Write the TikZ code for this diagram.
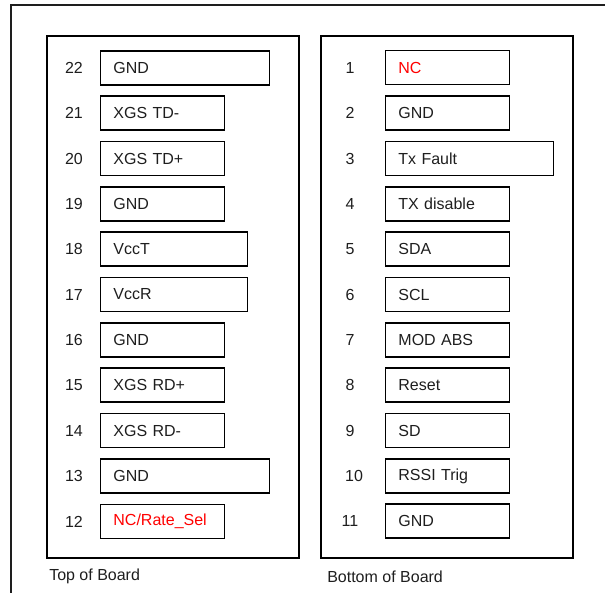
\documentclass[tikz,border=0pt]{standalone}
\usepackage{fontspec}
\setmainfont{Liberation Sans}
\definecolor{pinred}{RGB}{255,0,0}
\definecolor{ink}{RGB}{30,30,30}

\begin{document}
\begin{tikzpicture}[
    x=0.75pt, y=-0.75pt,
    panel/.style={draw, line width=1.2pt, inner sep=0pt, anchor=north west},
    pin/.style={draw, line width=1.4pt, anchor=west, minimum height=25.5pt,
        inner xsep=9.75pt, inner ysep=0pt, align=left, text width=#1,
        font=\fontsize{12}{14}\selectfont, text=ink},
    num/.style={font=\fontsize{12}{14}\selectfont, text=ink},
    caption/.style={anchor=west, font=\fontsize{12}{14}\selectfont, text=ink}
    ]

    \useasboundingbox (0,0) rectangle (605,593);
    \draw[line width=1.5pt, ink] (605,5) -- (11,5) -- (11,593);

    \node[panel, minimum width=189pt, minimum height=391.5pt] (Top) at (46,35) {};
    \node[panel, minimum width=189pt, minimum height=391.5pt] (Bottom) at (320,35) {};

    % top of board
    \node[num] (N22) at (74,68) {22};     \node[pin=107.25pt] (P22) at (99.5,68) {GND};
    \node[num] (N21) at (74,113) {21};    \node[pin=73.5pt] (P21) at (99.5,113) {XGS TD-};
    \node[num] (N20) at (74,158.5) {20};  \node[pin=73.5pt] (P20) at (99.5,158.5) {XGS TD+};
    \node[num] (N19) at (74,204) {19};    \node[pin=73.5pt] (P19) at (99.5,204) {GND};
    \node[num] (N18) at (74,249) {18};    \node[pin=90.75pt] (P18) at (99.5,249) {VccT};
    \node[num] (N17) at (74,294.5) {17};  \node[pin=90.75pt] (P17) at (99.5,294.5) {VccR};
    \node[num] (N16) at (74,340) {16};    \node[pin=73.5pt] (P16) at (99.5,340) {GND};
    \node[num] (N15) at (74,385) {15};    \node[pin=73.5pt] (P15) at (99.5,385) {XGS RD+};
    \node[num] (N14) at (74,430.5) {14};  \node[pin=73.5pt] (P14) at (99.5,430.5) {XGS RD-};
    \node[num] (N13) at (74,476) {13};    \node[pin=107.25pt] (P13) at (99.5,476) {GND};
    \node[num] (N12) at (74,521.5) {12};  \node[pin=73.5pt, text=pinred] (P12) at (99.5,521.5) {NC/Rate\_Sel};

    % bottom of board
    \node[num] (N1) at (350,67.5) {1};    \node[pin=73.5pt, text=pinred] (P1) at (384.5,67.5) {NC};
    \node[num] (N2) at (350,113) {2};     \node[pin=73.5pt] (P2) at (384.5,113) {GND};
    \node[num] (N3) at (350,158.5) {3};   \node[pin=106.5pt] (P3) at (384.5,158.5) {Tx Fault};
    \node[num] (N4) at (350,204) {4};     \node[pin=73.5pt] (P4) at (384.5,204) {TX disable};
    \node[num] (N5) at (350,249) {5};     \node[pin=73.5pt] (P5) at (384.5,249) {SDA};
    \node[num] (N6) at (350,294.5) {6};   \node[pin=73.5pt] (P6) at (384.5,294.5) {SCL};
    \node[num] (N7) at (350,340) {7};     \node[pin=73.5pt] (P7) at (384.5,340) {MOD ABS};
    \node[num] (N8) at (350,385) {8};     \node[pin=73.5pt] (P8) at (384.5,385) {Reset};
    \node[num] (N9) at (350,430.5) {9};   \node[pin=73.5pt] (P9) at (384.5,430.5) {SD};
    \node[num] (N10) at (354,476) {10};   \node[pin=73.5pt] (P10) at (384.5,476) {RSSI Trig};
    \node[num] (N11) at (350,521) {11};   \node[pin=73.5pt] (P11) at (384.5,521) {GND};

    \node[caption, inner xsep=0pt] (TopCap) at (49,576) {Top of Board};
    \node[caption, inner xsep=0pt] (BotCap) at (327,576.5) {Bottom of Board};

\end{tikzpicture}
\end{document}
